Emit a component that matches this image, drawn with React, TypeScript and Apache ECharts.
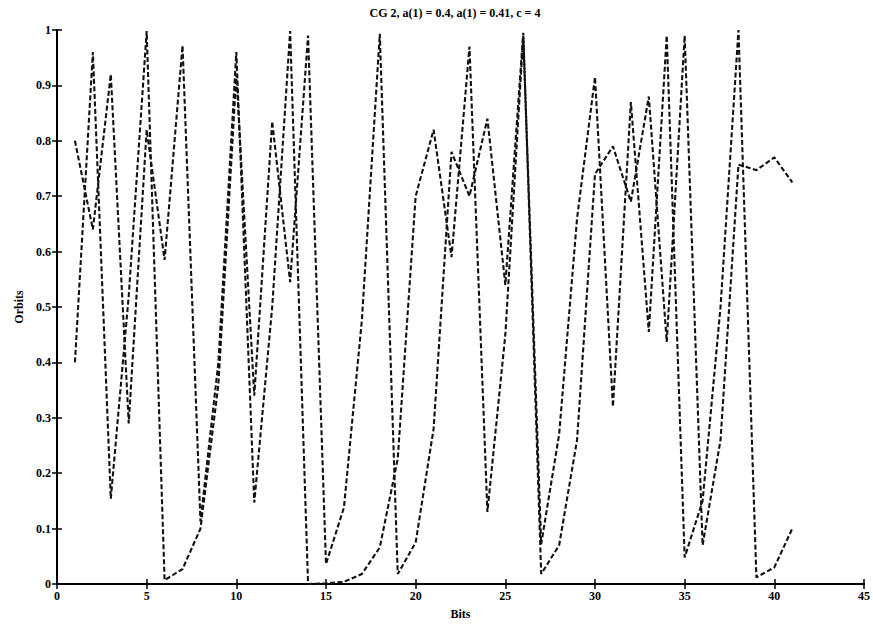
import React, { useEffect, useRef } from "react";
import * as echarts from "echarts";

const bits: number[] = [
  1, 2, 3, 4, 5, 6, 7, 8, 9, 10, 11, 12, 13, 14, 15, 16, 17, 18, 19, 20, 21,
  22, 23, 24, 25, 26, 27, 28, 29, 30, 31, 32, 33, 34, 35, 36, 37, 38, 39, 40, 41,
];

const orbitA: number[] = [
  0.4, 0.96, 0.154, 0.52, 0.998, 0.007, 0.027, 0.1, 0.36, 0.92, 0.34, 0.835,
  0.545, 0.99, 0.036, 0.138, 0.476, 0.993, 0.018, 0.075, 0.28, 0.78, 0.7, 0.84,
  0.54, 0.995, 0.018, 0.07, 0.26, 0.74, 0.79, 0.69, 0.88, 0.437, 0.99, 0.07,
  0.26, 0.757, 0.747, 0.77, 0.725,
];

const orbitB: number[] = [
  0.8, 0.64, 0.92, 0.29, 0.82, 0.585, 0.972, 0.113, 0.4, 0.96, 0.147, 0.5,
  0.998, 0.0, 0.001, 0.004, 0.018, 0.066, 0.226, 0.7, 0.82, 0.59, 0.97, 0.13,
  0.45, 0.99, 0.072, 0.27, 0.66, 0.915, 0.32, 0.87, 0.455, 0.99, 0.048, 0.15,
  0.5, 1.0, 0.012, 0.03, 0.1,
];

const titleText = "CG 2, a(1) = 0.4, a(1) = 0.41, c = 4";
const xLabel = "Bits";
const yLabel = "Orbits";

export default function App() {
  const ref = useRef<HTMLDivElement>(null);
  useEffect(() => {
    if (!ref.current) return;
    const chart = echarts.init(ref.current, null, { renderer: "svg" });
    const font = "'Liberation Serif', 'DejaVu Serif', serif";
    const lineStyle = { color: "#111", width: 2.1, type: [5, 2.5] as number[] };
    const mk = (vals: number[]) => bits.map((b, i) => [b, vals[i]]);
    const axisLine = { show: true, lineStyle: { color: "#000", width: 2 } };
    const tick = { show: true, inside: true, length: 5, lineStyle: { color: "#000", width: 1.5 } };
    chart.setOption({
      animation: false,
      backgroundColor: "#fff",
      title: {
        text: titleText,
        left: 450,
        textAlign: "center",
        top: 2,
        textStyle: { fontFamily: font, fontSize: 12, fontWeight: "bold", color: "#000" },
      },
      grid: { left: 57, right: 7, top: 30, bottom: 38, containLabel: false },
      xAxis: [
        {
          type: "value",
          min: 0,
          max: 45,
          interval: 5,
          name: xLabel,
          nameLocation: "middle",
          nameGap: 24,
          nameTextStyle: { fontFamily: font, fontSize: 12, fontWeight: "bold", color: "#000" },
          axisLine,
          axisTick: tick,
          splitLine: { show: false },
          axisLabel: { fontFamily: font, fontSize: 12, fontWeight: "bold", color: "#000", margin: 6 },
        },
        {
          type: "value",
          position: "top",
          min: 0,
          max: 45,
          interval: 5,
          axisLine,
          axisTick: tick,
          splitLine: { show: false },
          axisLabel: { show: false },
        },
      ],
      yAxis: [
        {
          type: "value",
          min: 0,
          max: 1,
          interval: 0.1,
          name: yLabel,
          nameLocation: "middle",
          nameGap: 27,
          nameRotate: 90,
          nameTextStyle: { fontFamily: font, fontSize: 12, fontWeight: "bold", color: "#000" },
          axisLine,
          axisTick: tick,
          splitLine: { show: false },
          axisLabel: { fontFamily: font, fontSize: 12, fontWeight: "bold", color: "#000", margin: 6 },
        },
        {
          type: "value",
          position: "right",
          min: 0,
          max: 1,
          interval: 0.1,
          axisLine,
          axisTick: tick,
          splitLine: { show: false },
          axisLabel: { show: false },
        },
      ],
      series: [
        {
          type: "line",
          data: mk(orbitA),
          showSymbol: false,
          symbol: "none",
          lineStyle,
        },
        {
          type: "line",
          data: mk(orbitB),
          showSymbol: false,
          symbol: "none",
          lineStyle,
        },
      ],
    });
    return () => chart.dispose();
  }, []);
  return (
    <div
      ref={ref}
      style={{ position: "fixed", left: 0, top: 0, width: 873, height: 625, background: "#fff" }}
    />
  );
}
